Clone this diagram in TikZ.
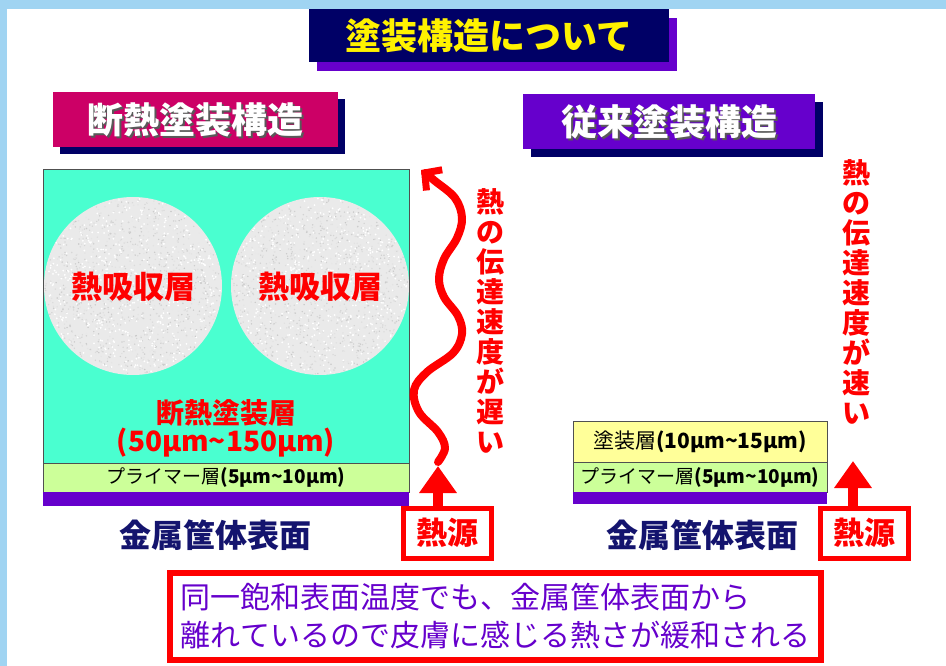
\documentclass[tikz,border=0pt]{standalone}
\usepackage{fontspec}
\setmainfont{Noto Sans CJK JP}
\usetikzlibrary{arrows.meta,calc}
\definecolor{frameblue}{RGB}{160,212,242}
\definecolor{navy}{RGB}{0,0,102}
\definecolor{violetc}{RGB}{102,0,204}
\definecolor{magentac}{RGB}{204,0,102}
\definecolor{aquac}{RGB}{74,255,208}
\definecolor{primerc}{RGB}{204,255,153}
\definecolor{paintc}{RGB}{255,255,153}
\definecolor{circc}{RGB}{234,234,234}
\definecolor{redc}{RGB}{255,0,0}
\definecolor{navytext}{RGB}{20,20,110}
\definecolor{edgec}{RGB}{80,80,80}
\begin{document}
\begin{tikzpicture}[x=1pt,y=-1pt,
  plain/.style={inner sep=0pt,outer sep=0pt},
  layer/.style={plain,draw=edgec,line width=1pt,anchor=north west},
  bar/.style={plain,fill=violetc,anchor=north west},
  hdrtext/.style={plain,font=\fontsize{36}{36}\selectfont\bfseries},
  redbold/.style={plain,text=redc,font=\fontsize{28}{28}\selectfont\bfseries},
  vtext/.style={plain,text=redc,align=center,font=\fontsize{28}{30}\selectfont\bfseries},
  heatbox/.style={plain,draw=redc,line width=5pt,fill=white,minimum width=88pt,minimum height=50pt,text=redc,font=\fontsize{31}{31}\selectfont\bfseries},
  metal/.style={plain,text=navytext,font=\fontsize{32}{32}\selectfont\bfseries},
  smalltext/.style={plain,text=black,font=\fontsize{19}{19}\selectfont},
  bigarrow/.style={redc,line width=10pt,-{Triangle[length=27pt,width=36pt]}},
  wave/.style={redc,line width=8pt,line cap=round,line join=round,-{Straight Barb[length=12pt,width=26pt,line width=7pt]}}
]
\useasboundingbox (0,0) rectangle (946,666);
\fill[frameblue] (0,0) rectangle (946,666);
\fill[white] (7,9) rectangle (946,666);

% title
\fill[violetc] (317,18) rectangle (677,71);
\node[plain,fill=navy,minimum width=360pt,minimum height=53pt,anchor=north west] (title) at (309,9) {};
\node[hdrtext,text=yellow] (titletext) at (title.center) {塗装構造について};

% left header
\fill[navy] (60,99) rectangle (345,154);
\node[plain,fill=magentac,minimum width=285pt,minimum height=55pt,anchor=north west] (hdrL) at (53,92) {};
\node[hdrtext,text=black!65] at ($(hdrL.center)+(2,2)$) {断熱塗装構造};
\node[hdrtext,text=white] (hdrLt) at (hdrL.center) {断熱塗装構造};

% right header
\fill[navy] (531,102) rectangle (823,157);
\node[plain,fill=violetc,minimum width=292pt,minimum height=55pt,anchor=north west] (hdrR) at (523,94) {};
\node[hdrtext,text=black!65] at ($(hdrR.center)+(2,2)$) {従来塗装構造};
\node[hdrtext,text=white] (hdrRt) at (hdrR.center) {従来塗装構造};

% left structure
\node[layer,fill=aquac,minimum width=366pt,minimum height=293pt] (insul) at (43,170) {};
\node[layer,fill=primerc,minimum width=366pt,minimum height=29pt] (primL) at (43,463) {};
\node[bar,minimum width=366pt,minimum height=14pt] (barL) at (43,492) {};

\pgfmathsetseed{7}
\foreach \cx in {133,320}{
  \fill[circc] (\cx,286) circle (89);
  \foreach \i in {1,...,1100}{
    \pgfmathsetmacro\rr{88*sqrt(rnd)}
    \pgfmathsetmacro\aa{360*rnd}
    \pgfmathsetmacro\gg{8+14*rnd}
    \fill[black!\gg] ($(\cx,286)+(\aa:\rr)$) circle (0.8);
  }
  \foreach \i in {1,...,500}{
    \pgfmathsetmacro\rr{88*sqrt(rnd)}
    \pgfmathsetmacro\aa{360*rnd}
    \fill[white] ($(\cx,286)+(\aa:\rr)$) circle (1);
  }
}
\node[redbold,font=\fontsize{31}{31}\selectfont\bfseries] (absL) at (133,287) {熱吸収層};
\node[redbold,font=\fontsize{31}{31}\selectfont\bfseries] (absR) at (320,287) {熱吸収層};

\node[redbold] (insLabel) at (226,413) {断熱塗装層};
\node[redbold] (insThick) at (226,443) {(50μm\textasciitilde150μm)};
\node[smalltext] (primLt) at (primL.center) {プライマー層\textbf{(5μm\textasciitilde10μm)}};
\node[metal] (metalL) at (215,535) {金属筐体表面};

% left heat source and arrows
\node[heatbox] (heatL) at (447,533) {熱源};
\coordinate (tipL) at (438,466);
\draw[bigarrow] (heatL.north -| tipL) -- (tipL);
\coordinate (waveS) at (438,462);
\coordinate (waveE) at (421,170);
\draw[wave] plot[smooth,tension=0.6] coordinates {(waveS) (445,448) (438,432) (419,412) (414,390) (427,372) (453,353) (462,334) (458,316) (444,297) (439,279) (444,259) (457,238) (462,218) (455,198) (435,181) (waveE)};
\node[vtext] (slow) at (490,321) {熱\\の\\伝\\達\\速\\度\\が\\遅\\い};

% right structure
\node[layer,fill=paintc,minimum width=254pt,minimum height=41pt] (paintR) at (573,421) {};
\node[layer,fill=primerc,minimum width=254pt,minimum height=30pt] (primR) at (573,462) {};
\node[bar,minimum width=254pt,minimum height=12pt] (barR) at (573,492) {};
\node[smalltext,font=\fontsize{21}{21}\selectfont] (paintRt) at (paintR.center) {塗装層\textbf{(10μm\textasciitilde15μm)}};
\node[smalltext] (primRt) at (primR.center) {プライマー層\textbf{(5μm\textasciitilde10μm)}};
\node[metal] (metalR) at (702,535) {金属筐体表面};

\node[heatbox] (heatR) at (864,533) {熱源};
\coordinate (tipR) at (853,461);
\draw[bigarrow] (heatR.north -| tipR) -- (tipR);
\node[vtext] (fast) at (856,292) {熱\\の\\伝\\達\\速\\度\\が\\速\\い};

% bottom note
\node[plain,draw=redc,line width=5.5pt,fill=white,minimum width=651pt,minimum height=87pt,anchor=north west] (note) at (170,573) {};
\node[plain,text=violetc,align=left,font=\fontsize{30}{38}\selectfont] (notet) at (note.center) {同一飽和表面温度でも、金属筐体表面から\\離れているので皮膚に感じる熱さが緩和される};
\end{tikzpicture}
\end{document}
